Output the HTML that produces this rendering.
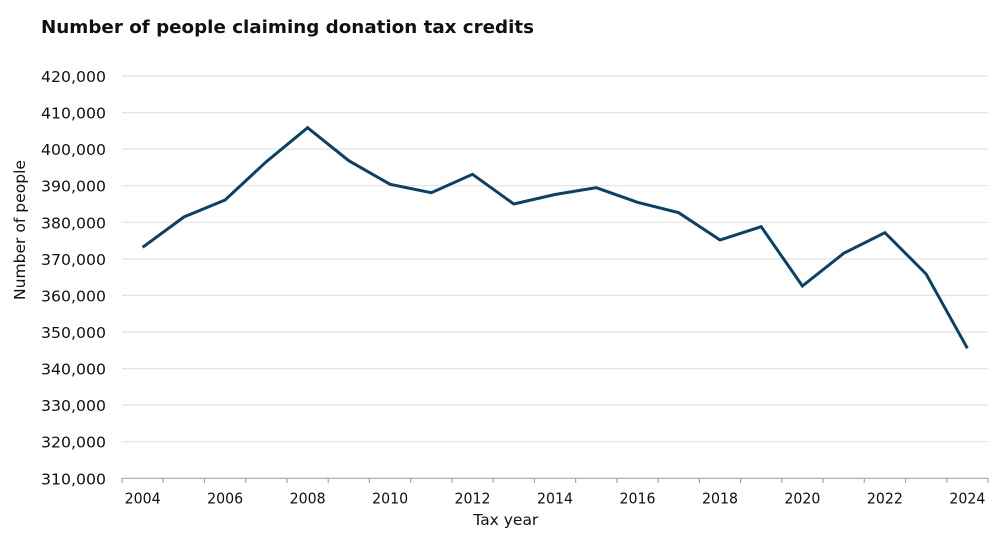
<!DOCTYPE html>
<html>
<head>
<meta charset="utf-8">
<style>
html,body{margin:0;padding:0;background:#fff;}
svg{display:block;}
text{font-family:"DejaVu Sans","Liberation Sans",sans-serif;fill:#111;}
</style>
</head>
<body>
<svg width="1000" height="536" viewBox="0 0 1000 536" xmlns="http://www.w3.org/2000/svg">
<rect width="1000" height="536" fill="#fff"/>
<text x="41" y="33" font-size="18" font-weight="bold" textLength="493" lengthAdjust="spacingAndGlyphs" fill="#000">Number of people claiming donation tax credits</text>

<g stroke="#e2e2e2" stroke-width="1.2">
<line x1="122" y1="76" x2="988" y2="76"/>
<line x1="122" y1="112.6" x2="988" y2="112.6"/>
<line x1="122" y1="149.1" x2="988" y2="149.1"/>
<line x1="122" y1="185.7" x2="988" y2="185.7"/>
<line x1="122" y1="222.3" x2="988" y2="222.3"/>
<line x1="122" y1="258.9" x2="988" y2="258.9"/>
<line x1="122" y1="295.4" x2="988" y2="295.4"/>
<line x1="122" y1="332" x2="988" y2="332"/>
<line x1="122" y1="368.6" x2="988" y2="368.6"/>
<line x1="122" y1="405.1" x2="988" y2="405.1"/>
<line x1="122" y1="441.7" x2="988" y2="441.7"/>
</g>

<g font-size="15" text-anchor="end">
<text x="106" y="82" textLength="65" lengthAdjust="spacingAndGlyphs">420,000</text>
<text x="106" y="118.6" textLength="65" lengthAdjust="spacingAndGlyphs">410,000</text>
<text x="106" y="155.1" textLength="65" lengthAdjust="spacingAndGlyphs">400,000</text>
<text x="106" y="191.7" textLength="65" lengthAdjust="spacingAndGlyphs">390,000</text>
<text x="106" y="228.3" textLength="65" lengthAdjust="spacingAndGlyphs">380,000</text>
<text x="106" y="264.9" textLength="65" lengthAdjust="spacingAndGlyphs">370,000</text>
<text x="106" y="301.4" textLength="65" lengthAdjust="spacingAndGlyphs">360,000</text>
<text x="106" y="338" textLength="65" lengthAdjust="spacingAndGlyphs">350,000</text>
<text x="106" y="374.6" textLength="65" lengthAdjust="spacingAndGlyphs">340,000</text>
<text x="106" y="411.1" textLength="65" lengthAdjust="spacingAndGlyphs">330,000</text>
<text x="106" y="447.7" textLength="65" lengthAdjust="spacingAndGlyphs">320,000</text>
<text x="106" y="484.3" textLength="65" lengthAdjust="spacingAndGlyphs">310,000</text>
</g>

<g stroke="#a6a6a6" stroke-width="1.2">
<line x1="122" y1="478.3" x2="988" y2="478.3"/>
<line x1="122" y1="478" x2="122" y2="483"/>
<line x1="163.2" y1="478" x2="163.2" y2="483"/>
<line x1="204.5" y1="478" x2="204.5" y2="483"/>
<line x1="245.7" y1="478" x2="245.7" y2="483"/>
<line x1="287" y1="478" x2="287" y2="483"/>
<line x1="328.2" y1="478" x2="328.2" y2="483"/>
<line x1="369.4" y1="478" x2="369.4" y2="483"/>
<line x1="410.7" y1="478" x2="410.7" y2="483"/>
<line x1="451.9" y1="478" x2="451.9" y2="483"/>
<line x1="493.2" y1="478" x2="493.2" y2="483"/>
<line x1="534.4" y1="478" x2="534.4" y2="483"/>
<line x1="575.6" y1="478" x2="575.6" y2="483"/>
<line x1="616.9" y1="478" x2="616.9" y2="483"/>
<line x1="658.1" y1="478" x2="658.1" y2="483"/>
<line x1="699.4" y1="478" x2="699.4" y2="483"/>
<line x1="740.6" y1="478" x2="740.6" y2="483"/>
<line x1="781.8" y1="478" x2="781.8" y2="483"/>
<line x1="823.1" y1="478" x2="823.1" y2="483"/>
<line x1="864.3" y1="478" x2="864.3" y2="483"/>
<line x1="905.6" y1="478" x2="905.6" y2="483"/>
<line x1="946.8" y1="478" x2="946.8" y2="483"/>
<line x1="988" y1="478" x2="988" y2="483"/>
</g>

<g font-size="15" text-anchor="middle">
<text x="142.6" y="503.5" textLength="36" lengthAdjust="spacingAndGlyphs">2004</text>
<text x="225.1" y="503.5" textLength="36" lengthAdjust="spacingAndGlyphs">2006</text>
<text x="307.6" y="503.5" textLength="36" lengthAdjust="spacingAndGlyphs">2008</text>
<text x="390.1" y="503.5" textLength="36" lengthAdjust="spacingAndGlyphs">2010</text>
<text x="472.5" y="503.5" textLength="36" lengthAdjust="spacingAndGlyphs">2012</text>
<text x="555" y="503.5" textLength="36" lengthAdjust="spacingAndGlyphs">2014</text>
<text x="637.5" y="503.5" textLength="36" lengthAdjust="spacingAndGlyphs">2016</text>
<text x="720" y="503.5" textLength="36" lengthAdjust="spacingAndGlyphs">2018</text>
<text x="802.4" y="503.5" textLength="36" lengthAdjust="spacingAndGlyphs">2020</text>
<text x="884.9" y="503.5" textLength="36" lengthAdjust="spacingAndGlyphs">2022</text>
<text x="967.4" y="503.5" textLength="36" lengthAdjust="spacingAndGlyphs">2024</text>
</g>

<text x="505.8" y="525" font-size="15" text-anchor="middle" textLength="65" lengthAdjust="spacingAndGlyphs">Tax year</text>
<text transform="translate(25,230) rotate(-90)" x="0" y="0" font-size="15" text-anchor="middle" textLength="140" lengthAdjust="spacingAndGlyphs">Number of people</text>

<polyline fill="none" stroke="#0a4168" stroke-width="3" stroke-linejoin="miter" stroke-linecap="butt"
points="142.6,247.3 183.9,217 225.1,200 266.3,161.7 307.6,127.7 348.8,160.7 390.1,184.3 431.3,192.7 472.5,174.3 513.8,204 555,194.5 596.2,187.7 637.5,202.3 678.7,212.7 720,240 761.2,226.7 802.4,286 843.7,253.3 884.9,232.7 926.1,274 967.4,348.3"/>
</svg>
</body>
</html>
